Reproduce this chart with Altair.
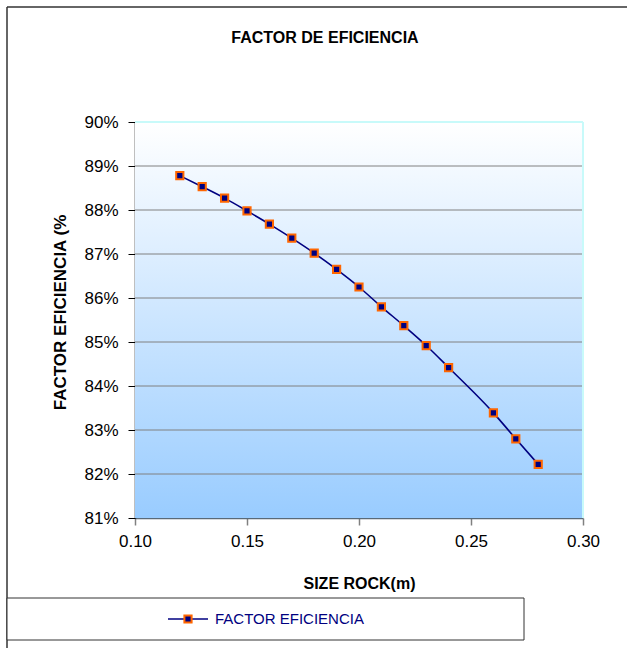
import altair as alt
import pandas as pd

# ---- data ----
size_rock = [0.12, 0.13, 0.14, 0.15, 0.16, 0.17, 0.18, 0.19, 0.20, 0.21,
             0.22, 0.23, 0.24, 0.26, 0.27, 0.28]
factor_pct = [88.78, 88.53, 88.27, 87.98, 87.68, 87.36, 87.02, 86.65, 86.25, 85.80,
              85.37, 84.92, 84.42, 83.39, 82.80, 82.22]
x_ticks = [0.10, 0.15, 0.20, 0.25, 0.30]
y_ticks = [0.81, 0.82, 0.83, 0.84, 0.85, 0.86, 0.87, 0.88, 0.89, 0.90]
chart_title = "FACTOR DE EFICIENCIA"
x_title = "SIZE ROCK(m)"
y_title = "FACTOR EFICIENCIA (%"
series_name = "FACTOR EFICIENCIA"

FONT = "Liberation Sans"
W, H = 448, 396
NAVY = "#000080"
ORANGE = "#FF6600"

df = pd.DataFrame({"size": size_rock, "factor": [v / 100 for v in factor_pct]})
grid_df = pd.DataFrame({"g": y_ticks[1:-1]})
ann = pd.DataFrame({"t": [chart_title], "s": [series_name]})

x_scale = alt.Scale(domain=[0.10, 0.30], nice=False, zero=False)
y_scale = alt.Scale(domain=[0.81, 0.90], nice=False, zero=False)

x_enc = alt.X(
    "size:Q",
    scale=x_scale,
    axis=alt.Axis(
        values=x_ticks, format=".2f", grid=False,
        domainColor="#5a6a78", domainWidth=1.5,
        tickColor="#808080", tickSize=7, tickWidth=1.5,
        labelFont=FONT, labelFontSize=17, labelColor="black",
        labelPadding=8, labelFlush=False, labelOverlap=False,
        title=x_title, titleFont=FONT, titleFontSize=16, titleFontWeight="bold",
        titleColor="black", titleX=W / 2, titleY=65,
        titleAlign="center", titleBaseline="middle",
    ),
)
y_enc = alt.Y(
    "factor:Q",
    scale=y_scale,
    axis=alt.Axis(
        values=y_ticks, format=".0%", grid=False,
        domainColor="black", domainWidth=1.5,
        tickColor="black", tickSize=7, tickWidth=1,
        labelFont=FONT, labelFontSize=17, labelColor="black",
        labelPadding=10,
        title=y_title, titleFont=FONT, titleFontSize=17, titleFontWeight="bold",
        titleColor="black", titleAngle=270, titleX=-75, titleY=190,
        titleAlign="center", titleBaseline="middle",
    ),
)

gradient = alt.LinearGradient(
    gradient="linear",
    stops=[alt.GradientStop(color="#FFFFFF", offset=0),
           alt.GradientStop(color="#99CCFF", offset=1)],
    x1=0, x2=0, y1=0, y2=1,
)

abase = alt.Chart(ann)

bg = abase.mark_rect(fill=gradient, stroke=None).encode(
    x=alt.value(0), x2=alt.value(W), y=alt.value(0), y2=alt.value(H)
)

grid = alt.Chart(grid_df).mark_rule(color="#808080", strokeWidth=1).encode(
    y=alt.Y("g:Q", scale=y_scale), x=alt.value(0), x2=alt.value(W)
)

base = alt.Chart(df)
line = base.mark_line(color=NAVY, strokeWidth=1.6, interpolate="monotone").encode(
    x=x_enc, y=y_enc
)
points = base.mark_square(
    size=52, fill=NAVY, stroke=ORANGE, strokeWidth=2, opacity=1, fillOpacity=1
).encode(x="size:Q", y="factor:Q")

# plot-area top and right border (light cyan)
top_border = abase.mark_rule(color="#C8FAFA", strokeWidth=2).encode(
    x=alt.value(0), x2=alt.value(W), y=alt.value(0)
)
right_border = abase.mark_rule(color="#C8FAFA", strokeWidth=2).encode(
    x=alt.value(W), y=alt.value(0), y2=alt.value(H)
)

# chart title
title = abase.mark_text(
    font=FONT, fontSize=16, fontWeight="bold", color="black",
    align="center", baseline="middle",
).encode(text="t:N", x=alt.value(190), y=alt.value(-84))

# outer frame lines (top and left)
frame_top = abase.mark_rule(color="#333333", strokeWidth=1.5).encode(
    x=alt.value(-128), x2=alt.value(492), y=alt.value(-115)
)
frame_left = abase.mark_rule(color="#333333", strokeWidth=1.5).encode(
    x=alt.value(-128), y=alt.value(-115), y2=alt.value(526)
)

# legend box
leg_box = abase.mark_rect(fill="white", stroke="#333333", strokeWidth=1).encode(
    x=alt.value(-128), x2=alt.value(389), y=alt.value(476), y2=alt.value(518)
)
leg_line = abase.mark_rule(color=NAVY, strokeWidth=1.6).encode(
    x=alt.value(33), x2=alt.value(73), y=alt.value(497)
)
leg_sym = abase.mark_square(
    size=52, fill=NAVY, stroke=ORANGE, strokeWidth=2, opacity=1
).encode(x=alt.value(53), y=alt.value(497))
leg_text = abase.mark_text(
    font=FONT, fontSize=15, color=NAVY, align="left", baseline="middle"
).encode(text="s:N", x=alt.value(80), y=alt.value(497))

chart = (
    alt.layer(bg, grid, top_border, right_border, line, points, title,
              frame_top, frame_left, leg_box, leg_line, leg_sym, leg_text)
    .resolve_scale(x="shared", y="shared")
    .properties(
        width=W, height=H,
        autosize=alt.AutoSizeParams(type="none"),
        padding={"left": 135, "top": 122, "right": 44, "bottom": 130},
        background="white",
    )
    .configure_view(stroke=None)
)

chart.save("out.html", embed_options={"renderer": "svg", "actions": False})
